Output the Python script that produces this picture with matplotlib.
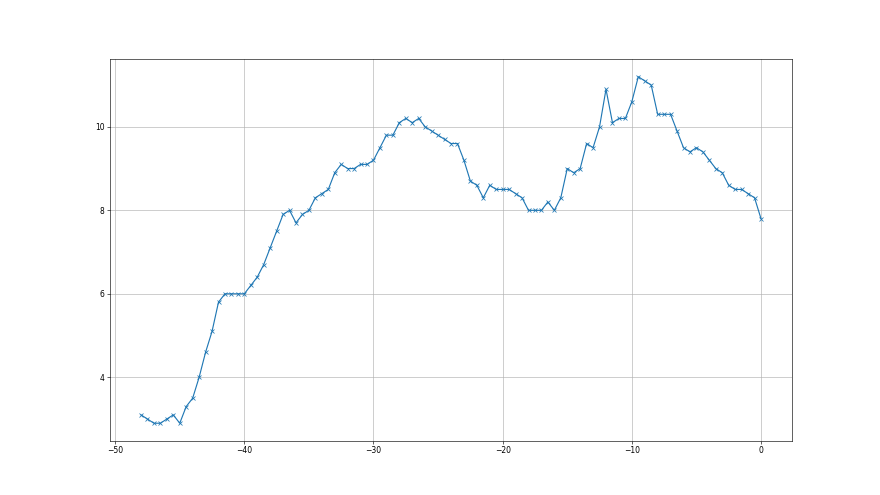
import numpy as np
import matplotlib
matplotlib.use("Agg")
import matplotlib.pyplot as plt

x_start, x_stop, x_step = -48.0, 0.0, 0.5
values = [
    3.1, 3.0, 2.9, 2.9, 3.0, 3.1, 2.9, 3.3, 3.5, 4.0,
    4.6, 5.1, 5.8, 6.0, 6.0, 6.0, 6.0, 6.2, 6.4, 6.7,
    7.1, 7.5, 7.9, 8.0, 7.7, 7.9, 8.0, 8.3, 8.4, 8.5,
    8.9, 9.1, 9.0, 9.0, 9.1, 9.1, 9.2, 9.5, 9.8, 9.8,
    10.1, 10.2, 10.1, 10.2, 10.0, 9.9, 9.8, 9.7, 9.6, 9.6,
    9.2, 8.7, 8.6, 8.3, 8.6, 8.5, 8.5, 8.5, 8.4, 8.3,
    8.0, 8.0, 8.0, 8.2, 8.0, 8.3, 9.0, 8.9, 9.0, 9.6,
    9.5, 10.0, 10.9, 10.1, 10.2, 10.2, 10.6, 11.2, 11.1, 11.0,
    10.3, 10.3, 10.3, 9.9, 9.5, 9.4, 9.5, 9.4, 9.2, 9.0,
    8.9, 8.6, 8.5, 8.5, 8.4, 8.3, 7.8,
]
x = np.arange(x_start, x_stop + x_step / 2, x_step)
assert len(x) == len(values)

fig = plt.figure(figsize=(16, 9), dpi=55)
ax = fig.add_subplot(111)
ax.plot(x, values, marker='x', color='#1f77b4')
ax.grid(True)
fig.savefig("out.png", dpi=55)
